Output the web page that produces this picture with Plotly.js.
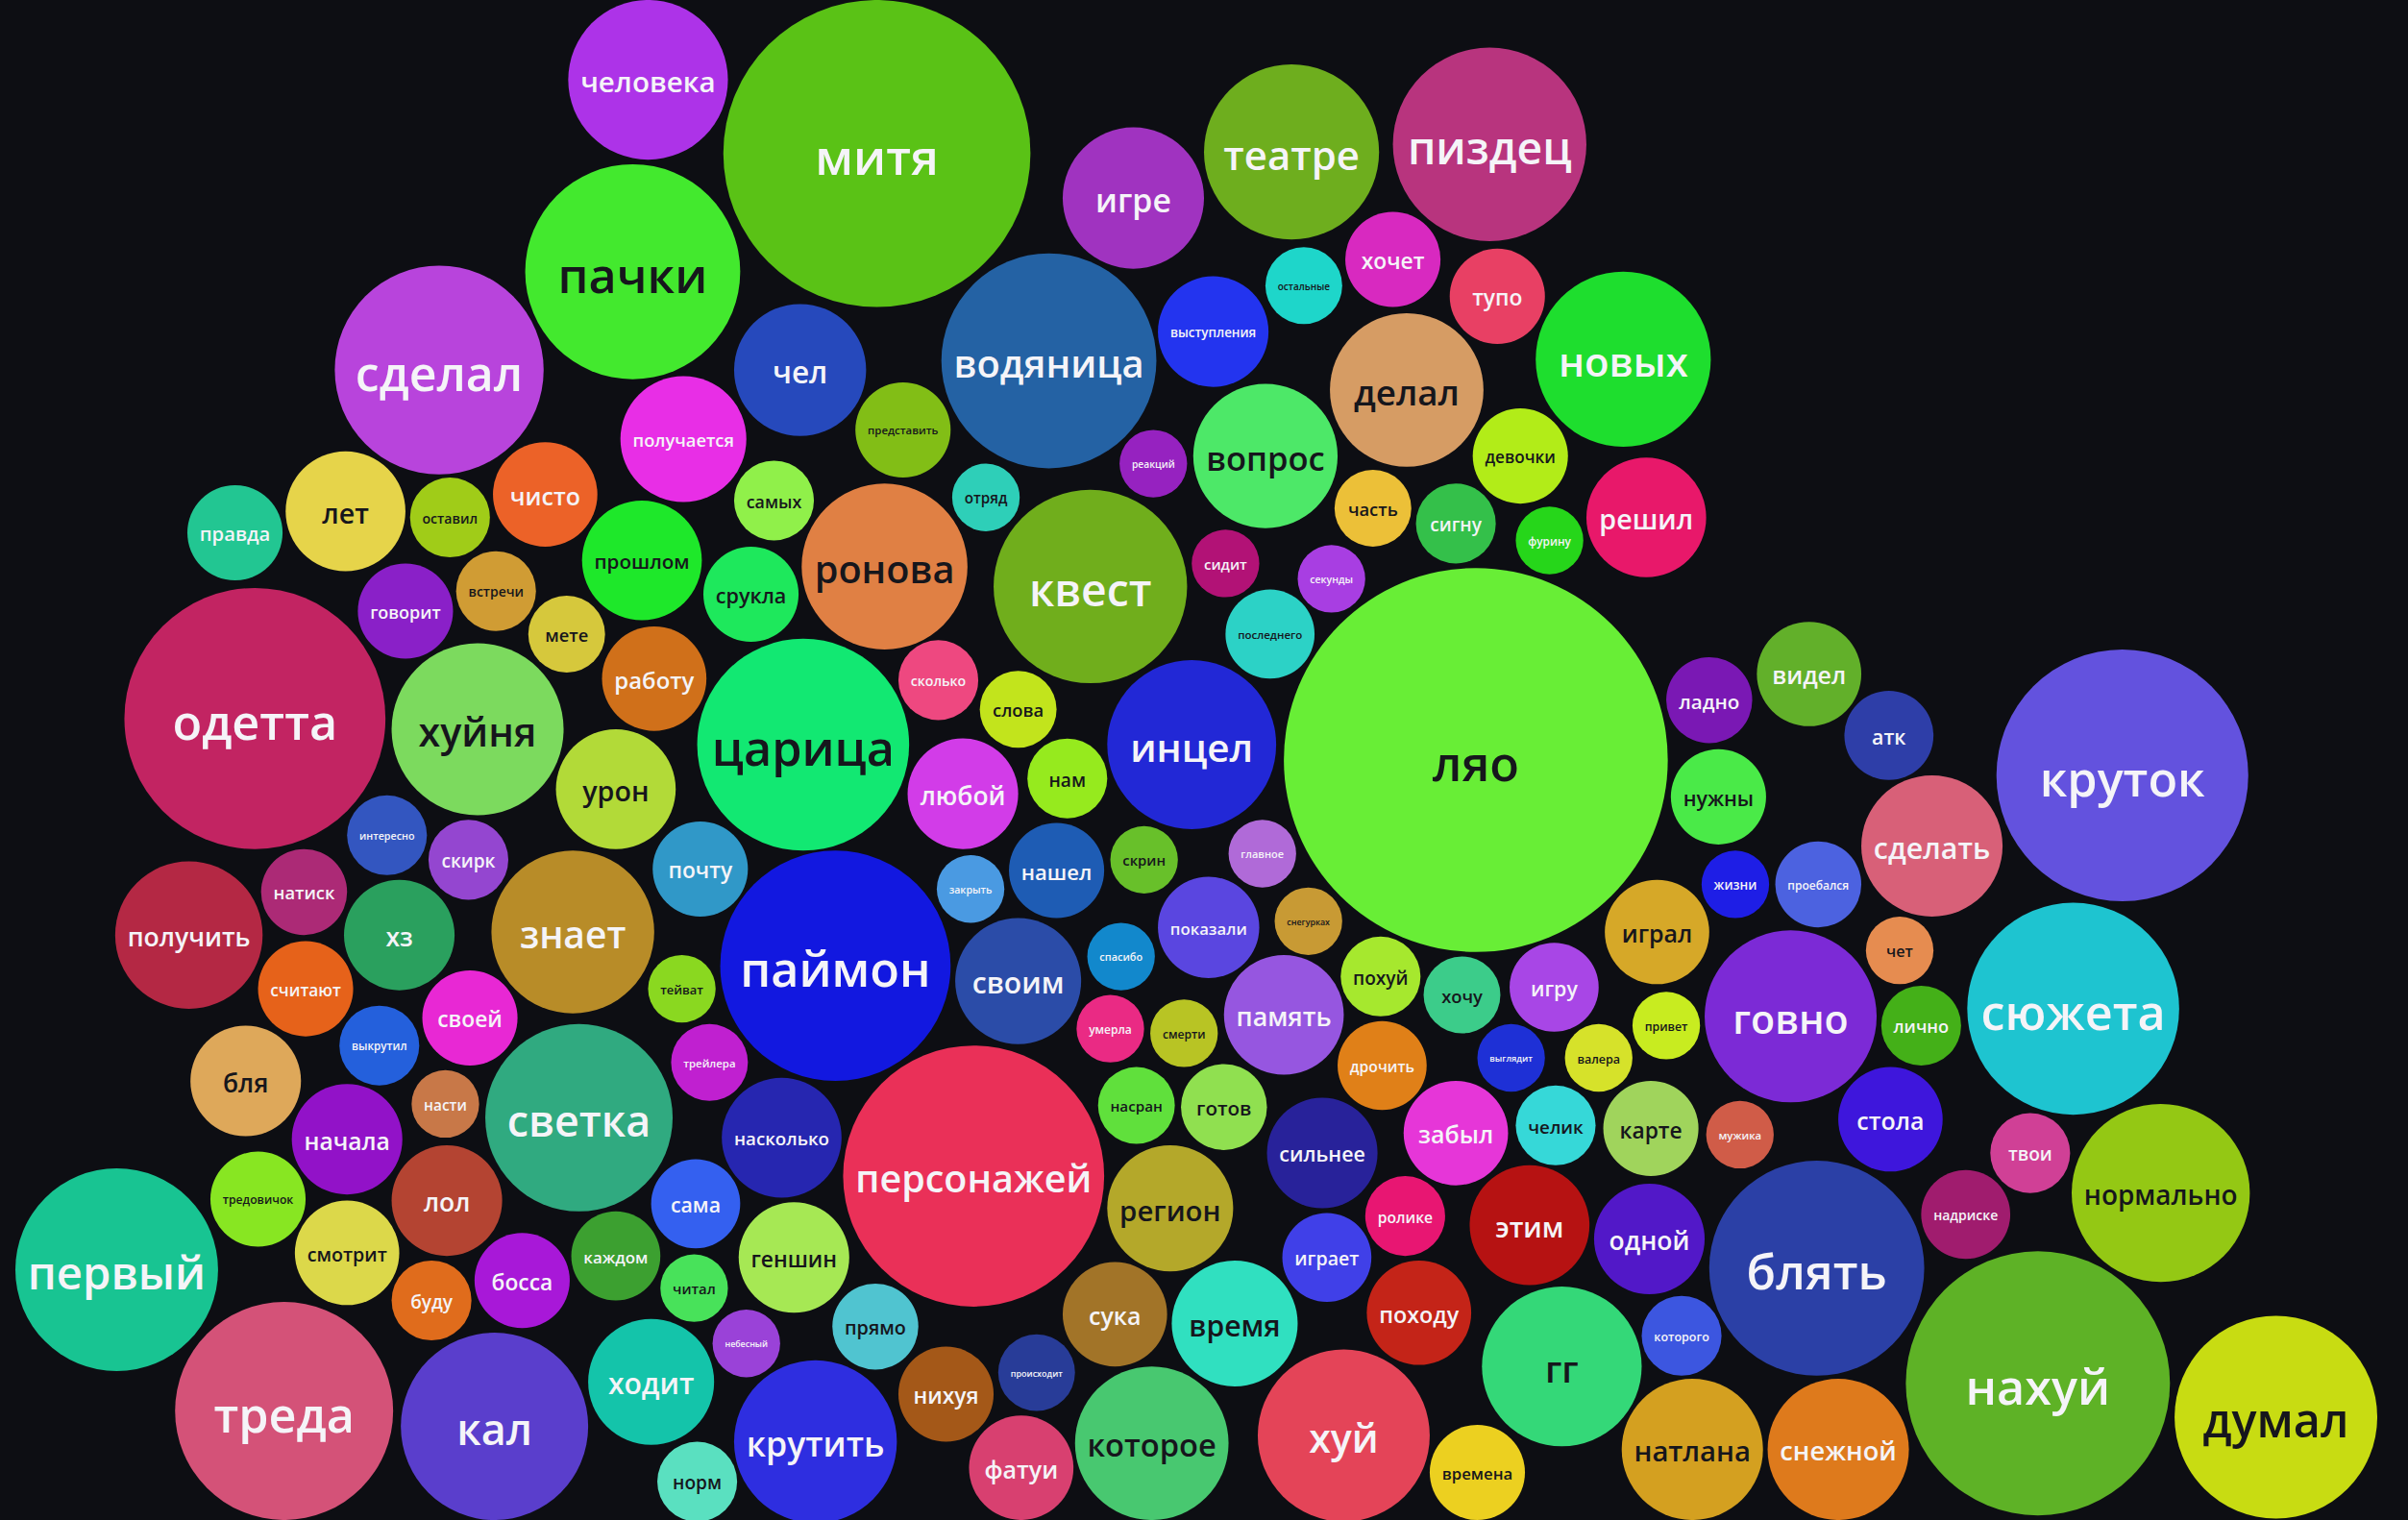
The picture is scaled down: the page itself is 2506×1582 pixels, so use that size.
<!DOCTYPE html>
<html>
<head>
<meta charset="utf-8">
<script src="https://cdn.plot.ly/plotly-3.0.1.min.js"></script>
<style>
html,body{margin:0;padding:0;background:#0d0e13;overflow:hidden}
#chart{width:2506px;height:1582px}
</style>
</head>
<body>
<div id="chart"></div>
<script>
// Word frequency bubbles: label, centre (x, y) and radius in reference units (1568 x 990 frame), fill colour, label tone
const words = ["человека","митя","пачки","сделал","игре","театре","пиздец","водяница","чел","выступления",
"остальные","хочет","тупо","новых","делал","вопрос","девочки","часть","сигну","фурину",
"решил","получается","представить","реакций","самых","отряд","правда","лет","оставил","чисто",
"прошлом","срукла","ронова","квест","сидит","секунды","последнего","ляо","говорит","встречи",
"мете","одетта","хуйня","работу","сколько","слова","царица","урон","любой","нам",
"инцел","ладно","видел","атк","круток","нужны","сделать","интересно","скирк","натиск",
"получить","хз","знает","почту","закрыть","нашел","скрин","главное","жизни","проебался",
"чет","сюжета","паймон","своим","спасибо","показали","снегурках","играл","похуй","хочу",
"игру","говно","лично","считают","своей","тейват","выкрутил","умерла","смерти","память",
"дрочить","выглядит","валера","привет","бля","светка","трейлера","насти","начала","насколько",
"персонажей","насран","готов","сильнее","забыл","челик","карте","мужика","стола","твои",
"нормально","надриске","тредовичок","лол","сама","регион","ролике","этим","одной","блять",
"первый","смотрит","буду","босса","каждом","читал","геншин","играет","походу","сука",
"время","прямо","гг","которого","небесный","ходит","треда","кал","нихуя","происходит",
"крутить","норм","фатуи","которое","хуй","времена","натлана","снежной","нахуй","думал"];

const cx = [422,571,412,286,738,841,970,683,521,790,
849,907,975,1057,916,824,990,894,948,1009,
1072,445,588,751,504,642,153,225,293,355,
418,489,576,710,798,867,827,961,264,323,
369,166,311,426,611,663,523,401,627,695,
776,1113,1178,1230,1382,1119,1258,252,305,198,
123,260,373,456,632,688,745,822,1130,1184,
1237,1350,544,663,730,787,852,1079,899,952,
1012,1166,1251,199,306,444,247,723,771,836,
900,984,1041,1085,160,377,462,290,226,509,
634,740,797,861,948,1013,1075,1133,1231,1322,
1407,1280,168,291,453,762,915,996,1074,1183,
76,226,281,340,401,452,517,864,924,726,
804,570,1017,1095,486,424,185,322,616,675,
531,454,665,750,875,962,1102,1197,1327,1482];

const cy = [52,100,177,241,129,99,94,235,241,216,
186,169,193,234,254,297,297,331,341,352,
337,286,280,302,326,324,347,333,337,322,
365,387,369,382,367,377,413,495,398,385,
413,468,475,442,443,462,485,514,517,507,
485,456,439,479,505,519,551,544,560,581,
609,609,607,566,579,567,560,556,576,576,
619,657,629,639,623,604,600,607,636,648,
643,662,668,644,663,644,681,670,673,661,
694,689,689,668,704,728,692,719,742,741,
766,720,721,751,738,733,735,739,729,751,
777,791,781,782,784,787,792,798,807,826,
827,816,847,834,818,839,819,819,855,856,
862,864,890,870,875,900,919,929,908,894,
939,965,956,940,935,959,944,944,901,923];

const rad = [52,100,70,68,46,57,63,70,43,36,
25,31,31,57,50,47,31,25,26,22,
39,41,31,22,26,22,31,39,26,34,
39,31,54,63,22,22,29,125,31,26,
25,85,56,34,26,25,69,39,36,26,
55,28,34,29,82,31,46,26,26,28,
48,36,53,31,22,31,22,22,22,28,
22,69,75,41,22,33,22,34,26,25,
29,56,26,31,31,22,26,22,22,39,
29,22,22,22,36,61,25,22,36,39,
85,25,28,36,34,26,31,22,34,26,
58,29,31,36,29,41,26,39,36,70,
66,34,26,31,29,22,36,29,34,34,
41,28,52,26,22,41,71,61,31,25,
53,26,34,50,56,31,46,46,86,66];

const fill = ["#ad33e8","#5ac216","#43e92e","#b844dc","#a033c0","#6eae1e","#b8347e","#2462a4","#2649bc","#2334ef",
"#1ed6ca","#d829c0","#e84064","#1ede2e","#d69c64","#4de868","#b2ec18","#ecc038","#34c04a","#26d61a",
"#e8186a","#e82ee6","#82be16","#9622c0","#90f04a","#2ecfb8","#22c692","#e6d44a","#a0cc18","#ec6228",
"#1ee82a","#1ee85c","#e08044","#70ae1c","#b21276","#a83ee2","#2cd2c6","#68ee36","#8a20c8","#d09c34",
"#d6c83c","#c22462","#7cda5e","#d0701a","#ee4880","#c2e41c","#12e872","#b2da38","#d23ce8","#96ea1e",
"#2228d6","#7a18b4","#62b02a","#2e3ea8","#6352de","#4aea48","#d86078","#3356c0","#9446d0","#ac2a76",
"#b42844","#2aa05e","#b88c28","#3098c8","#4a9ae2","#1e5cb4","#68c02a","#b06ad8","#1e1ee6","#4c62e0",
"#e68c50","#1ec4d0","#1218e0","#2b4ca8","#1288cc","#5a46e0","#c89a34","#d6a828","#a6e82e","#3ccc8a",
"#a846e6","#7c2ad6","#44b018","#e6621a","#e828d4","#8ad820","#2460dc","#ea2a84","#b8c424","#9656e0",
"#e08018","#1e30d6","#d6e22a","#c8ec20","#dea85a","#30aa80","#c020d0","#c87848","#9212c8","#2626b0",
"#ea3058","#60e03c","#90e050","#28229a","#e636d8","#36d8d8","#a0d45c","#d05c48","#3e16dc","#d04096",
"#94c814","#a01c6e","#88e622","#b44432","#3460f0","#b4a82a","#e81672","#b61212","#5218c8","#2b40a6",
"#18c492","#dcd84a","#e06c1c","#a818d8","#3ca030","#48e25a","#a6e854","#4040e8","#c42418","#a27428",
"#30e0c0","#50c4d0","#34d878","#3c56e0","#9a42d8","#14c4aa","#d45278","#5a3ecc","#a45818","#283c98",
"#2e2ee0","#5ae0c0","#d84070","#48c870","#e44458","#ecd020","#d4a020","#de7a1c","#5eb226","#c8dc12"];

const tone = ["w","w","d","w","w","w","w","w","w","w",
"d","w","w","w","d","d","d","d","w","w",
"w","w","d","w","d","d","w","d","d","w",
"d","d","d","w","w","w","d","d","w","d",
"d","w","d","w","w","d","d","d","w","d",
"w","w","w","w","w","d","w","w","w","w",
"w","w","w","w","w","w","d","w","w","w",
"d","w","w","w","w","w","d","d","d","d",
"w","w","w","w","w","d","w","w","d","w",
"w","w","d","d","d","w","w","w","w","w",
"w","d","d","w","w","d","d","w","w","w",
"d","w","d","w","w","d","w","w","w","w",
"w","d","w","w","w","d","d","w","w","w",
"d","d","d","w","w","w","w","w","w","w",
"w","d","w","d","w","d","d","w","w","d"];

// ---- rendering ----
const W = 2506, H = 1582, FX = 1568, FY = 990;
const K = W / FX;
const FONT = "Open Sans";

const cnv = document.createElement("canvas");
const ctx = cnv.getContext("2d");
ctx.font = "600 100px '" + FONT + "'";
function emWidth(s){ return ctx.measureText(s).width / 100; }

const markerSize = rad.map(r => 2 * r * K);
const fsUnits = words.map((w, i) => {
  const r = rad[i];
  return Math.min(31.5, 0.46 * r, (2 * r - 16) / emWidth(w));
});
const fontSize = fsUnits.map(f => f * K);
const fontColor = tone.map(t => t === "d" ? "#16161c" : "#f5f4f8");
// labels sit slightly below the geometric centre (lowercase x-height centring)
const labelY = cy.map((y, i) => y + 0.19 * fsUnits[i]);

const bubbles = {
  type: "scatter",
  mode: "markers",
  x: cx,
  y: cy,
  hoverinfo: "none",
  cliponaxis: false,
  marker: {
    size: markerSize,
    sizemode: "diameter",
    color: fill,
    opacity: 1,
    line: {width: 0}
  }
};

const labels = {
  type: "scatter",
  mode: "text",
  x: cx,
  y: labelY,
  text: words,
  textposition: "middle center",
  hoverinfo: "none",
  cliponaxis: false,
  textfont: {
    family: FONT,
    size: fontSize,
    color: fontColor,
    weight: 600
  }
};

const layout = {
  width: W,
  height: H,
  margin: {l: 0, r: 0, t: 0, b: 0, pad: 0},
  paper_bgcolor: "#0d0e13",
  plot_bgcolor: "#0d0e13",
  showlegend: false,
  xaxis: {range: [0, FX], visible: false, fixedrange: true},
  yaxis: {range: [FY, 0], visible: false, fixedrange: true},
  hovermode: false
};

Plotly.newPlot("chart", [bubbles, labels], layout, {displayModeBar: false, staticPlot: true});
</script>
</body>
</html>
